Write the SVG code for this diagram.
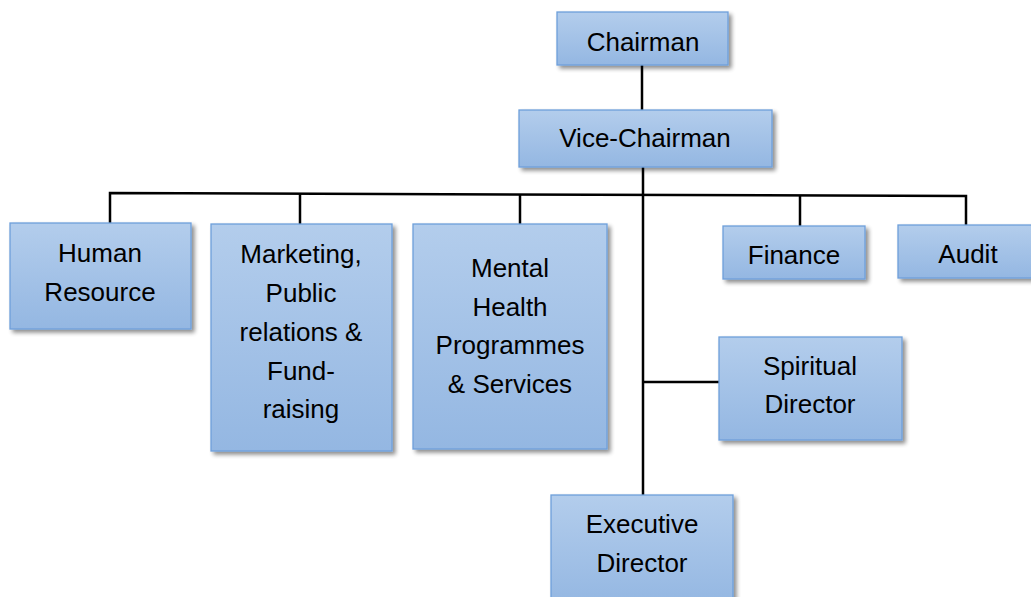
<svg xmlns="http://www.w3.org/2000/svg" width="1031" height="597" viewBox="0 0 1031 597">
<defs>
<linearGradient id="g" x1="0" y1="0" x2="0" y2="1">
<stop offset="0" stop-color="#b3cdec"/>
<stop offset="1" stop-color="#94b7e2"/>
</linearGradient>
<filter id="sh" x="-10%" y="-10%" width="130%" height="130%">
<feGaussianBlur in="SourceAlpha" stdDeviation="2"/>
<feOffset dx="3" dy="3" result="b"/>
<feComponentTransfer><feFuncA type="linear" slope="0.45"/></feComponentTransfer>
<feMerge><feMergeNode/><feMergeNode in="SourceGraphic"/></feMerge>
</filter>
<style>
.box{fill:url(#g);stroke:#6e9fdb;stroke-width:1.3;filter:url(#sh)}
text{font-family:"Liberation Sans",Arial,sans-serif;font-size:26px;fill:#000;text-anchor:middle}
.c{stroke:#000;stroke-width:2.5;fill:none}
</style>
</defs>
<rect width="1031" height="597" fill="#fff"/>
<g id="connectors">
<line class="c" x1="642" y1="65" x2="642" y2="110"/>
<line class="c" x1="643" y1="167" x2="643" y2="495"/>
<polyline class="c" points="110,223 110,193 966,196 966,225"/>
<line class="c" x1="300" y1="193.7" x2="300" y2="224"/>
<line class="c" x1="520" y1="194.5" x2="520" y2="224"/>
<line class="c" x1="800" y1="195.4" x2="800" y2="226"/>
<line class="c" x1="643" y1="382" x2="719" y2="382"/>
</g>
<g id="chairman"><rect class="box" x="557" y="12" width="171" height="53"/><text x="643" y="51">Chairman</text></g>
<g id="vice-chairman"><rect class="box" x="519" y="110" width="253" height="57"/><text x="645" y="147">Vice-Chairman</text></g>
<g id="human-resource"><rect class="box" x="10" y="223" width="181" height="106"/><text x="100" y="262">Human</text><text x="100" y="301">Resource</text></g>
<g id="marketing"><rect class="box" x="211" y="224" width="181" height="227"/><text x="301" y="263">Marketing,</text><text x="301" y="302">Public</text><text x="301" y="341">relations &amp;</text><text x="301" y="380">Fund-</text><text x="301" y="418">raising</text></g>
<g id="mental-health"><rect class="box" x="413" y="224" width="194" height="225"/><text x="510" y="277">Mental</text><text x="510" y="316">Health</text><text x="510" y="354">Programmes</text><text x="510" y="393">&amp; Services</text></g>
<g id="finance"><rect class="box" x="723" y="226" width="142" height="53"/><text x="794" y="264">Finance</text></g>
<g id="audit"><rect class="box" x="898" y="225" width="140" height="53"/><text x="968" y="263">Audit</text></g>
<g id="spiritual-director"><rect class="box" x="719" y="337" width="183" height="103"/><text x="810" y="375">Spiritual</text><text x="810" y="413">Director</text></g>
<g id="executive-director"><rect class="box" x="551" y="495" width="182" height="110"/><text x="642" y="533">Executive</text><text x="642" y="572">Director</text></g>
</svg>
